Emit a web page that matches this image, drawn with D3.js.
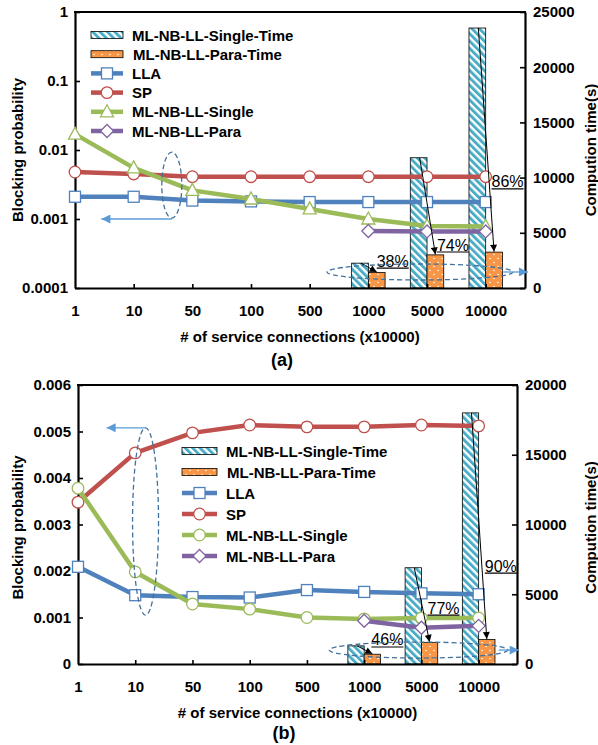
<!DOCTYPE html>
<html><head><meta charset="utf-8">
<script src="https://cdn.jsdelivr.net/npm/d3@7/dist/d3.min.js"></script>
<style>
body{margin:0;background:#fff}
text{font-family:"Liberation Sans",Arial,Helvetica,sans-serif;fill:#000}
</style>
</head><body>
<svg id="c" width="598" height="745"></svg>
<script>
// ---------------- DATA ----------------
const categories = ["1","10","50","100","500","1000","5000","10000"];
const barCategories = ["1000","5000","10000"];

// panel (a) blocking probability (log axis)
const llaA    = [0.0021,0.0021,0.00185,0.0018,0.00176,0.00176,0.00176,0.00176];
const spA     = [0.0048,0.0045,0.0041,0.0041,0.0041,0.0041,0.0041,0.0041];
const singleA = [0.017,0.0055,0.0026,0.00195,0.0014,0.001,0.00079,0.00078];
const paraA   = [null,null,null,null,null,0.00067,0.00066,0.00066];
// panel (a) computation time (s)
const singleTimeA = [2250,11800,23550];
const paraTimeA   = [1400,3000,3250];
const pctA        = ["38%","74%","86%"];
const pctLevelA   = [1800,3260,8970];   // label underline level (s)

// panel (b) blocking probability (linear axis)
const llaB    = [0.00209,0.00148,0.00144,0.00143,0.00159,0.00155,0.00152,0.0015];
const spB     = [0.00348,0.00454,0.00497,0.00514,0.0051,0.0051,0.00514,0.00512];
const singleB = [0.00378,0.00198,0.00129,0.00118,0.001,0.00097,0.00099,0.00099];
const paraB   = [null,null,null,null,null,0.00093,0.00078,0.00082];
// panel (b) computation time (s)
const singleTimeB = [1300,6900,18000];
const paraTimeB   = [700,1550,1750];
const pctB        = ["46%","77%","90%"];
const pctLevelB   = [1220,3510,6520];

// tick labels
const yTicksA  = [0.0001,0.001,0.01,0.1,1];
const yLabelsA = ["0.0001","0.001","0.01","0.1","1"];
const y2TicksA = [0,5000,10000,15000,20000,25000];
const yTicksB  = [0,0.001,0.002,0.003,0.004,0.005,0.006];
const yLabelsB = ["0","0.001","0.002","0.003","0.004","0.005","0.006"];
const y2TicksB = [0,5000,10000,15000,20000];

const legendNames = ["ML-NB-LL-Single-Time","ML-NB-LL-Para-Time","LLA","SP","ML-NB-LL-Single","ML-NB-LL-Para"];

// ---------------- STYLE ----------------
const C = {lla:"#4F81BD", sp:"#C0504D", single:"#9BBB59", para:"#8064A2",
           hatch:"#4BACC6", orange:"#F79646", ell:"#41719C", arrow:"#5B9BD5"};

const svg = d3.select("#c");
const defs = svg.append("defs");
const hatch = defs.append("pattern").attr("id","hatch").attr("patternUnits","userSpaceOnUse")
  .attr("width",5.2).attr("height",5.2).attr("patternTransform","rotate(-45)");
hatch.append("rect").attr("width",5.2).attr("height",5.2).attr("fill","#fff");
hatch.append("rect").attr("width",2.9).attr("height",5.2).attr("fill",C.hatch);
const dots = defs.append("pattern").attr("id","dots").attr("patternUnits","userSpaceOnUse")
  .attr("width",8).attr("height",8);
dots.append("rect").attr("width",8).attr("height",8).attr("fill",C.orange);
dots.append("circle").attr("cx",2).attr("cy",2.5).attr("r",0.8).attr("fill","#fff");
dots.append("circle").attr("cx",6).attr("cy",6.5).attr("r",0.8).attr("fill","#fff");

function addHead(id, color, w, h){
  defs.append("marker").attr("id",id).attr("viewBox","0 0 10 10").attr("refX",10).attr("refY",5)
    .attr("markerUnits","userSpaceOnUse").attr("markerWidth",w).attr("markerHeight",h).attr("orient","auto")
    .append("path").attr("d","M0,0L10,5L0,10Z").attr("fill",color);
}
addHead("headK","#000",8,7);
addHead("headB",C.arrow,11,9);

function drawMarker(g, shape, cx, cy, color){
  if(shape==="square"){
    g.append("rect").attr("x",cx-5.5).attr("y",cy-5.5).attr("width",11).attr("height",11)
      .attr("fill","#fff").attr("stroke",color).attr("stroke-width",1.3);
  } else if(shape==="circle"){
    g.append("circle").attr("cx",cx).attr("cy",cy).attr("r",5.8)
      .attr("fill","#fff").attr("stroke",color).attr("stroke-width",1.3);
  } else if(shape==="triangle"){
    g.append("path").attr("d",`M${cx},${cy-7}L${cx+6.5},${cy+5}L${cx-6.5},${cy+5}Z`)
      .attr("fill","#fff").attr("stroke",color).attr("stroke-width",1.3);
  } else if(shape==="diamond"){
    g.append("path").attr("d",`M${cx},${cy-6.5}L${cx+6.5},${cy}L${cx},${cy+6.5}L${cx-6.5},${cy}Z`)
      .attr("fill","#fff").attr("stroke",color).attr("stroke-width",1.3);
  }
}

function panel(o){
  const g = svg.append("g");
  const x = d3.scaleLinear().domain([0,7.67]).range([o.left,o.right]);
  const y = o.log ? d3.scaleLog().domain([0.0001,1]).range([o.bottom,o.top])
                  : d3.scaleLinear().domain([0,0.006]).range([o.bottom,o.top]);
  const y2 = d3.scaleLinear().domain([0,o.timeMax]).range([o.bottom,o.top]);
  const step = x(1)-x(0), bw = step*0.285;

  // bars
  barCategories.forEach((c,j)=>{
    const cx = x(categories.indexOf(c));
    g.append("rect").attr("x",cx-bw).attr("y",y2(o.singleTime[j])).attr("width",bw)
      .attr("height",y2(0)-y2(o.singleTime[j])).attr("fill","url(#hatch)").attr("stroke","#000").attr("stroke-width",0.8);
    g.append("rect").attr("x",cx).attr("y",y2(o.paraTime[j])).attr("width",bw)
      .attr("height",y2(0)-y2(o.paraTime[j])).attr("fill","url(#dots)").attr("stroke","#000").attr("stroke-width",0.8);
  });

  // axes
  const fmtL = d=>o.yLabels[o.yTicks.indexOf(d)];
  const ax = g.append("g").attr("transform",`translate(${o.left},0)`)
    .call(d3.axisLeft(y).tickValues(o.yTicks).tickFormat(fmtL).tickSize(-5).tickSizeOuter(0).tickPadding(7));
  const ax2 = g.append("g").attr("transform",`translate(${o.right},0)`)
    .call(d3.axisRight(y2).tickValues(o.y2Ticks).tickFormat(d3.format("d")).tickSize(-5).tickSizeOuter(0).tickPadding(8));
  const axb = g.append("g").attr("transform",`translate(0,${o.bottom})`)
    .call(d3.axisBottom(x).tickValues(d3.range(categories.length)).tickFormat(i=>categories[i]).tickSize(-4).tickSizeOuter(0).tickPadding(17));
  [ax,ax2,axb].forEach(a=>{
    a.select(".domain").attr("stroke","#000").attr("stroke-width",2.2);
    a.selectAll(".tick line").attr("stroke","#000").attr("stroke-width",1.6);
    a.selectAll(".tick text").attr("font-size",15).attr("font-weight","bold").attr("fill","#000")
      .style("font-family","'Liberation Sans',Arial,sans-serif");
  });
  axb.selectAll(".tick").filter(d=>d===0).select("line").remove();
  g.append("line").attr("x1",o.left-1).attr("x2",o.right+1).attr("y1",o.top).attr("y2",o.top)
    .attr("stroke","#000").attr("stroke-width",2.2);

  // series lines
  const series = [
    {v:o.lla, c:C.lla, m:"square"},
    {v:o.sp, c:C.sp, m:"circle"},
    {v:o.single, c:C.single, m:o.singleMarker},
    {v:o.para, c:C.para, m:"diamond"}
  ];
  const line = d3.line().defined(d=>d.v!=null).x(d=>x(d.i)).y(d=>y(d.v));
  series.forEach(s=>{
    const pts = s.v.map((v,i)=>({i,v}));
    g.append("path").attr("d",line(pts)).attr("fill","none").attr("stroke",s.c)
      .attr("stroke-width",4.5).attr("stroke-linejoin","round");
    pts.filter(p=>p.v!=null).forEach(p=>drawMarker(g,s.m,x(p.i),y(p.v),s.c));
  });

  // callout arrows and % labels
  barCategories.forEach((c,j)=>{
    const cx = x(categories.indexOf(c));
    g.append("line").attr("x1",cx-bw/2+1).attr("y1",y2(o.singleTime[j]))
      .attr("x2",cx+bw/2).attr("y2",y2(o.paraTime[j])-0.5)
      .attr("stroke","#000").attr("stroke-width",1).attr("marker-end","url(#headK)");
    const lx = cx+bw/2+o.pctDx[j], ly = y2(o.pctLevel[j]);
    const t = g.append("text").attr("x",lx).attr("y",ly-1.5).attr("font-size",16).text(o.pct[j]);
    const w = t.node().getComputedTextLength();
    g.append("line").attr("x1",lx).attr("x2",lx+w).attr("y1",ly).attr("y2",ly)
      .attr("stroke","#000").attr("stroke-width",1.2);
  });

  // blue dashed ellipses + arrows
  const e1 = o.ellL;
  const ey1 = y(e1.top), ey2 = y(e1.bot);
  g.append("ellipse").attr("cx",x(e1.i)).attr("cy",(ey1+ey2)/2).attr("rx",e1.rx).attr("ry",(ey2-ey1)/2)
    .attr("fill","none").attr("stroke",C.ell).attr("stroke-width",1.3).attr("stroke-dasharray","5,3");
  g.append("line").attr("x1",x(e1.i)).attr("x2",x(e1.tip)).attr("y1",y(e1.arrowAt)).attr("y2",y(e1.arrowAt))
    .attr("stroke",C.arrow).attr("stroke-width",1.3).attr("marker-end","url(#headB)");
  const e2 = o.ellR;
  g.append("ellipse").attr("cx",x(e2.i)).attr("cy",y2(e2.v)).attr("rx",x(e2.ri)-x(0)).attr("ry",8)
    .attr("fill","none").attr("stroke",C.ell).attr("stroke-width",1.3).attr("stroke-dasharray","5,3");
  g.append("line").attr("x1",x(e2.from)).attr("x2",x(e2.tip)).attr("y1",y2(e2.v)).attr("y2",y2(e2.v))
    .attr("stroke",C.arrow).attr("stroke-width",1.3).attr("marker-end","url(#headB)");

  // titles
  const mid = (o.top+o.bottom)/2;
  g.append("text").attr("transform",`translate(17,${mid+o.ytDy}) rotate(-90)`).attr("text-anchor","middle")
    .attr("dominant-baseline","central").attr("font-size",15).attr("font-weight","bold").text("Blocking probability");
  g.append("text").attr("transform",`translate(590,${mid+o.ytDy}) rotate(-90)`).attr("text-anchor","middle")
    .attr("dominant-baseline","central").attr("font-size",15).attr("font-weight","bold").text("Compution time(s)");
  g.append("text").attr("x",(o.left+o.right)/2).attr("y",o.bottom+54).attr("text-anchor","middle")
    .attr("font-size",15).attr("font-weight","bold").text("# of service connections (x10000)");
  g.append("text").attr("x",o.capX).attr("y",o.bottom+o.capDy).attr("text-anchor","middle")
    .attr("font-size",18).attr("font-weight","bold").text(o.caption);

  // legend
  const L = o.legend;
  legendNames.forEach((name,k)=>{
    const cy = L.y + k*L.dy;
    if(k===0 || k===1){
      g.append("rect").attr("x",L.x).attr("y",cy-3.5).attr("width",L.w).attr("height",7)
        .attr("fill",k===0?"url(#hatch)":"url(#dots)").attr("stroke","#000").attr("stroke-width",0.8);
    } else {
      const s = series[k-2];
      g.append("line").attr("x1",L.x).attr("x2",L.x+L.w).attr("y1",cy).attr("y2",cy)
        .attr("stroke",s.c).attr("stroke-width",4.5);
      drawMarker(g,s.m,L.x+L.w/2,cy,s.c);
    }
    g.append("text").attr("x",L.x+L.w+9+(k===1?1:0)).attr("y",cy).attr("dominant-baseline","central")
      .attr("font-size",15).attr("font-weight","bold").text(name);
  });
}

panel({left:75,right:525,top:12,bottom:288,log:true,timeMax:25000,
  lla:llaA,sp:spA,single:singleA,para:paraA,singleMarker:"triangle",
  singleTime:singleTimeA,paraTime:paraTimeA,pct:pctA,pctLevel:pctLevelA,pctDx:[0,1.5,-2.5],
  yTicks:yTicksA,yLabels:yLabelsA,y2Ticks:y2TicksA,
  ellL:{i:1.65,top:0.0093,bot:0.00103,rx:10,arrowAt:0.001,tip:0.45},
  ellR:{i:5.88,v:1450,ri:1.585,from:7.3,tip:7.72},
  ytDy:0,capX:282,capDy:78,caption:"(a)",
  legend:{x:91,w:32,y:35,dy:19.2}});

panel({left:78,right:517,top:385,bottom:664,log:false,timeMax:20000,
  lla:llaB,sp:spB,single:singleB,para:paraB,singleMarker:"circle",
  singleTime:singleTimeB,paraTime:paraTimeB,pct:pctB,pctLevel:pctLevelB,pctDx:[-1,-2,-2],
  yTicks:yTicksB,yLabels:yLabelsB,y2Ticks:y2TicksB,
  ellL:{i:1.18,top:0.00508,bot:0.00105,rx:13,arrowAt:0.00508,tip:0.5},
  ellR:{i:5.95,v:1000,ri:1.56,from:7.35,tip:7.7},
  ytDy:3,capX:284,capDy:75,caption:"(b)",
  legend:{x:182,w:35,y:451,dy:21}});
</script>
</body></html>
